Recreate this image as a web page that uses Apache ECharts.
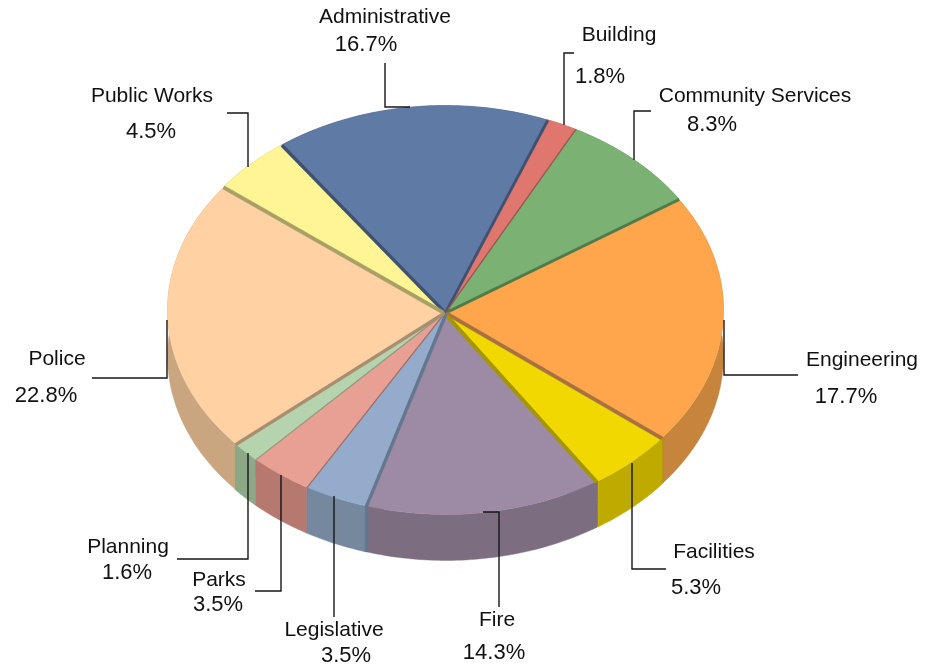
<!DOCTYPE html>
<html><head><meta charset="utf-8">
<style>html,body{margin:0;padding:0;background:#fff}#c{width:926px;height:669px}</style>
<script src="https://cdn.jsdelivr.net/npm/echarts@6/dist/echarts.min.js"></script>
</head><body><div id="c"></div>
<script>
const categories = ["Administrative","Building","Community Services","Engineering","Facilities","Fire","Legislative","Parks","Planning","Police","Public Works"];
const shares = [16.7,1.8,8.3,17.7,5.3,14.3,3.5,3.5,1.6,22.8,4.5];
const topColors = ["#5F7AA5","#E0776F","#7BB274","#FFA64D","#F0D800","#9D8AA5","#95ABCB","#E8A094","#B5D3AC","#FFD1A3","#FFF594"];
const rimColors = ["#475C7E","#A85A54","#5D8658","#C6843D","#BFAB00","#7C6D80","#75889E","#B57970","#8DA886","#C9A67F","#BFB870"];
const wallColors = ["#3F5170","#9C5650","#4F7A4A","#A87240","#A69600","#6E6178","#64778F","#A06C63","#8E9E80","#A88E70","#A8A066"];

// projection of the tilted disc
const view = {cx:445.5, cy:310, rx:276, ry:203, depth:46, apexDy:2, explode:2, start:-36};
// perspective calibration: [flat angle from start, angular shift], degrees
const warpKnots = [[0,0],[58,-2.5],[96,-3.5],[160,4.5],[179,3.5],[231,2],[243,2.5],[262,3.3],[344,-0.5],[360,0]];
// visible width of each slice's radial wall: [clockwise-start edge, clockwise-end edge]
const wallBands = [[3,2.5],[0,1],[0,2.5],[0,3.5],[0,3.5],[0,0],[3,0],[0.8,0],[0.8,0],[3,0],[3.5,0]];

// label layout: name centre, percent centre, leader polyline
const nameAt = [[385,17],[619,35],[755,96],[862,360],[714,552],[497,620],[334,630],[219,580],[128,547],[57,359],[152,96]];
const shareAt = [[366,45],[600,77],[712,125],[846,397],[696,588],[494,653],[346,656],[218,605],[127,573],[46,396],[151,132]];
const leaders = [
  [[385,63],[385,107],[410,107]],
  [[574,53],[564,53],[564,125]],
  [[651,111],[634,111],[634,160]],
  [[724,320],[724,375],[798,375]],
  [[632,463],[632,569],[666,569]],
  [[483,512],[499,512],[499,607]],
  [[334,496],[334,617]],
  [[281,475],[281,591],[255,591]],
  [[248,453],[248,559],[177,559]],
  [[167,320],[167,378],[92,378]],
  [[248,167],[248,113],[227,113]]
];

function warp(a){
  for(let i=1;i<warpKnots.length;i++){
    const k0=warpKnots[i-1],k1=warpKnots[i];
    if(a<=k1[0]) return a+echarts.number.linearMap(a,[k0[0],k1[0]],[k0[1],k1[1]],true);
  }
  return a;
}
const total = shares.reduce((s,v)=>s+v,0);
let run=0;
const spans = shares.map(v=>{const s=run;run+=v;return [s/total*360,run/total*360];});

function renderSlice(params){
  const i=params.dataIndex, v=view;
  const a0=(warp(spans[i][0])+v.start)*Math.PI/180, a1=(warp(spans[i][1])+v.start)*Math.PI/180;
  const mid=(a0+a1)/2;
  const ox=v.cx+v.explode*Math.sin(mid), oy=v.cy-v.explode*v.ry/v.rx*Math.cos(mid);
  const apex=[ox,oy+v.apexDy];
  const n=Math.max(6,Math.ceil((a1-a0)*180/Math.PI));
  const arc=[];
  for(let k=0;k<=n;k++){const t=a0+(a1-a0)*k/n;arc.push([ox+v.rx*Math.sin(t),oy-v.ry*Math.cos(t)]);}
  const down=p=>[p[0],p[1]+v.depth];
  const z=Math.round(1000-Math.cos(mid)*400);
  const poly=(pts,fill,zz)=>({type:'polygon',shape:{points:pts},style:{fill:fill,stroke:fill,lineWidth:0.4},z2:zz});
  // band along a radial edge, pushed away from the slice by width w
  const band=(rim,inner,w,continueDown)=>{
    if(!w) return null;
    const dx=rim[0]-apex[0],dy=rim[1]-apex[1],len=Math.hypot(dx,dy);
    let nx=-dy/len,ny=dx/len;
    if(nx*(inner[0]-apex[0])+ny*(inner[1]-apex[1])>0){nx=-nx;ny=-ny;}
    const a2=[apex[0]+nx*w,apex[1]+ny*w], r2=[rim[0]+nx*w,rim[1]+ny*w];
    const pts=continueDown?[apex,rim,down(rim),[r2[0],down(r2)[1]-1],r2,a2]:[apex,rim,r2,a2];
    return poly(pts,wallColors[i],2500);
  };
  const frontEdge=rim=>rim[1]>v.cy+v.ry*0.9;
  const bands=[
    band(arc[0],arc[n>>1],wallBands[i][0],frontEdge(arc[0])),
    band(arc[n],arc[n>>1],wallBands[i][1],frontEdge(arc[n]))
  ].filter(Boolean);
  const kids=[
    poly([apex,arc[0],down(arc[0]),down(apex)],wallColors[i],z),
    poly([apex,arc[n],down(arc[n]),down(apex)],wallColors[i],z),
    poly(arc.concat(arc.map(down).reverse()),rimColors[i],z+1),
    poly([apex].concat(arc),topColors[i],z+2)
  ].concat(bands,[
    {type:'polyline',shape:{points:leaders[i]},style:{fill:null,stroke:'#161616',lineWidth:1.4},z2:3000},
    {type:'text',z2:3000,style:{text:categories[i],x:nameAt[i][0],y:nameAt[i][1],align:'center',verticalAlign:'middle',font:'21px "Liberation Sans", Arial, sans-serif',fill:'#111'}},
    {type:'text',z2:3000,style:{text:shares[i].toFixed(1)+'%',x:shareAt[i][0],y:shareAt[i][1],align:'center',verticalAlign:'middle',font:'22px "Liberation Sans", Arial, sans-serif',fill:'#111'}}
  ]);
  return {type:'group',children:kids};
}
const chart=echarts.init(document.getElementById('c'),null,{renderer:'canvas'});
chart.setOption({
  animation:false,
  backgroundColor:'#fff',
  series:[{type:'custom',coordinateSystem:'none',silent:true,renderItem:renderSlice,
    data:shares.map((v,i)=>({name:categories[i],value:v}))}]
});
</script></body></html>
